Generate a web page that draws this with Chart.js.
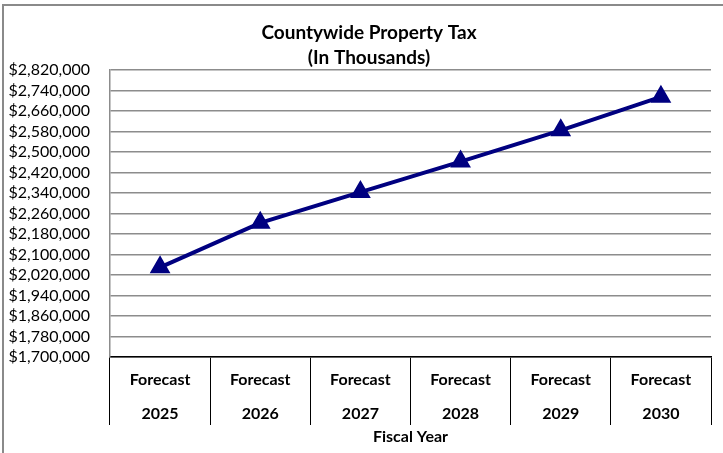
<!DOCTYPE html>
<html>
<head>
<meta charset="utf-8">
<script src="https://cdn.jsdelivr.net/npm/chart.js@4"></script>
<style>
    body { margin: 0; background: #fff; }
    #frame {
        position: absolute; left: 2px; top: 4px; width: 780px; height: 500px;
        border: 2px solid #8a8a8a; box-sizing: border-box;
    }
    #myChart { position: absolute; left: 0; top: 0; }
</style>
</head>
<body>
<div id="frame"></div>
<canvas id="myChart" width="723" height="453"></canvas>
<script>
var categories = ["2025", "2026", "2027", "2028", "2029", "2030"];
var taxValues = [2050000, 2224000, 2344000, 2463000, 2585000, 2716000];
var yMin = 1700000;
var yMax = 2820000;
var yStep = 80000;
var chartTitle = ["Countywide Property Tax", "(In Thousands)"];
var xTitle = "Fiscal Year";

var colorChartScheme = {
    line: "#000080",
    grid: "#8c8c8c",
    text: "#000",
};

// y labels are wider than the padded box, let them use the left margin too
var widenYLabels = {
    id: "widenYLabels",
    afterLayout: function (chart) { chart.scales.y.left = 0; },
};

var ctx = document.getElementById("myChart").getContext("2d");

var myChart = new Chart(ctx, {
    type: "line",
    data: {
        labels: categories.map(function (c) { return ["Forecast", c]; }),
        datasets: [{
            label: "Property Tax",
            data: taxValues,
            borderColor: colorChartScheme.line,
            backgroundColor: colorChartScheme.line,
            borderWidth: 4,
            lineTension: 0,
            fill: false,
            pointStyle: "triangle",
            pointRadius: 8,
            pointHoverRadius: 8,
        }],
    },
    plugins: [widenYLabels],
    options: {
        responsive: false,
        animation: false,
        // left padding pushes the title centre right like the original
        layout: { padding: { left: 18, right: 3, top: 0, bottom: 0 } },
        plugins: {
            legend: { display: false },
            tooltip: { enabled: false },
            title: {
                display: true,
                text: chartTitle,
                color: colorChartScheme.text,
                font: { family: "Lato", size: 19, weight: "bold", lineHeight: 1.32 },
                padding: { top: 20, bottom: 0 },
            },
        },
        scales: {
            x: {
                offset: true,
                afterFit: function (scale) { scale.height = 96; },
                grid: {
                    offset: true,
                    drawOnChartArea: false,
                    drawTicks: true,
                    tickLength: 68,
                    color: "#000",
                    lineWidth: 1,
                },
                border: { display: true, color: "#000", width: 1.5 },
                ticks: {
                    color: colorChartScheme.text,
                    padding: -62,
                    maxRotation: 0,
                    autoSkip: false,
                    font: { family: "Lato", size: 16, weight: "bold", lineHeight: 2.125 },
                },
                title: {
                    display: true,
                    text: xTitle,
                    color: colorChartScheme.text,
                    font: { family: "Lato", size: 16, weight: "bold" },
                    padding: { top: 0, bottom: 7 },
                },
            },
            y: {
                min: yMin,
                max: yMax,
                afterFit: function (scale) { scale.width = 92; },
                grid: {
                    color: colorChartScheme.grid,
                    lineWidth: 1.5,
                    drawTicks: false,
                },
                border: { display: true, color: colorChartScheme.grid, width: 1.5 },
                ticks: {
                    stepSize: yStep,
                    padding: 20,
                    autoSkip: false,
                    color: colorChartScheme.text,
                    font: { family: "Lato", size: 16 },
                    callback: function (v) { return "$" + v.toLocaleString("en-US"); },
                },
            },
        },
    },
});
</script>
</body>
</html>
